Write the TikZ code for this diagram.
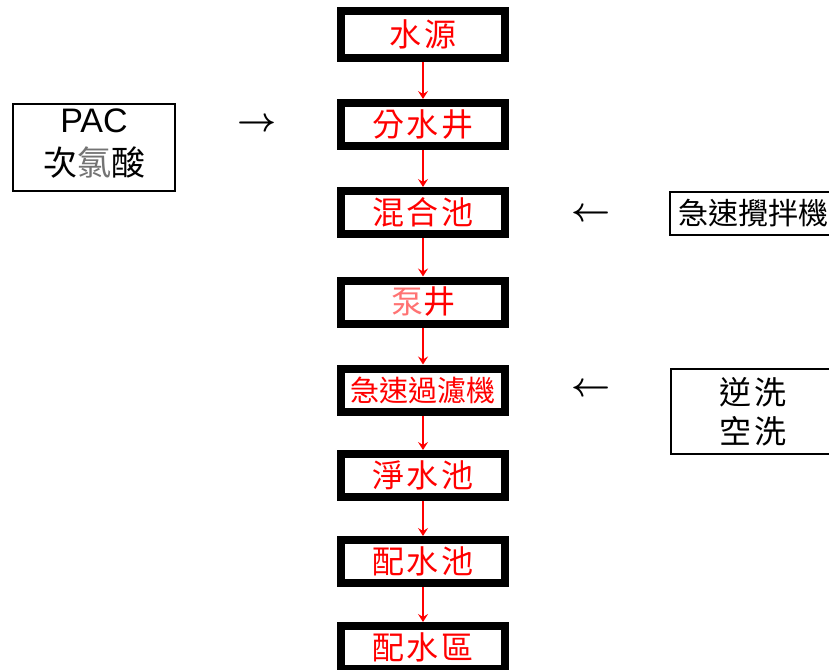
\documentclass[tikz,border=0pt]{standalone}
\usepackage{fontspec}
\setmainfont{Liberation Sans}
\newfontfamily\cjk{Noto Sans CJK TC}
\newfontfamily\cjksp[LetterSpace=9]{Noto Sans CJK TC}
\usetikzlibrary{arrows.meta}
\definecolor{pured}{RGB}{255,0,0}
\tikzset{
  mainbox/.style={draw=black, line width=8pt, minimum width=164pt, minimum height=43pt,
    inner sep=0pt, text=pured, font=\cjksp\fontsize{32}{34}\selectfont},
  sidebox/.style={draw=black, line width=2pt, inner sep=0pt, text=black, align=center},
  flow/.style={draw=pured, line width=1.8pt, -{Stealth[length=8pt,width=10pt,inset=3pt]}},
  glypharrow/.style={inner sep=0pt, scale=3.4, font=\boldmath}
}
\begin{document}
\begin{tikzpicture}[x=1pt,y=-1pt]
\useasboundingbox (0,0) rectangle (829,669);
\clip (0,0) rectangle (829,669);
% main column
\node[mainbox, minimum height=47pt] (n1) at (423,34.5) {水源};
\node[mainbox] (n2) at (423,124.5) {分水井};
\node[mainbox] (n3) at (423,212.5) {混合池};
\node[mainbox] (n4) at (423,302) {{\color{pured!55}泵}井};
\node[mainbox, font=\cjk\fontsize{29}{31}\selectfont] (n5) at (423,390) {急速過濾機};
\node[mainbox] (n6) at (423,475.5) {淨水池};
\node[mainbox] (n7) at (423,561.5) {配水池};
\node[mainbox] (n8) at (423,647.5) {配水區};
\foreach \a/\b in {n1/n2,n2/n3,n3/n4,n4/n5,n5/n6,n6/n7,n7/n8}
  \draw[flow] (\a) -- (\b);
% side boxes
\node[sidebox, minimum width=162pt, minimum height=87pt, font=\fontsize{34}{43}\selectfont,
  text depth=11pt] (pac) at (94,147.5)
  {PAC\\\cjk 次{\color{black!55}氯}酸};
\node[glypharrow] (ar1) at (257,125) {$\rightarrow$};
\node[sidebox, minimum width=166pt, minimum height=43pt, font=\cjk\fontsize{30}{32}\selectfont] (mix) at (753,213.5) {急速攪拌機};
\node[glypharrow] (ar2) at (591,215) {$\leftarrow$};
\node[sidebox, minimum width=164pt, minimum height=85pt, font=\cjksp\fontsize{32}{39}\selectfont] (wash) at (753,411.5) {逆洗\\空洗};
\node[glypharrow] (ar3) at (591,390) {$\leftarrow$};
\end{tikzpicture}
\end{document}
